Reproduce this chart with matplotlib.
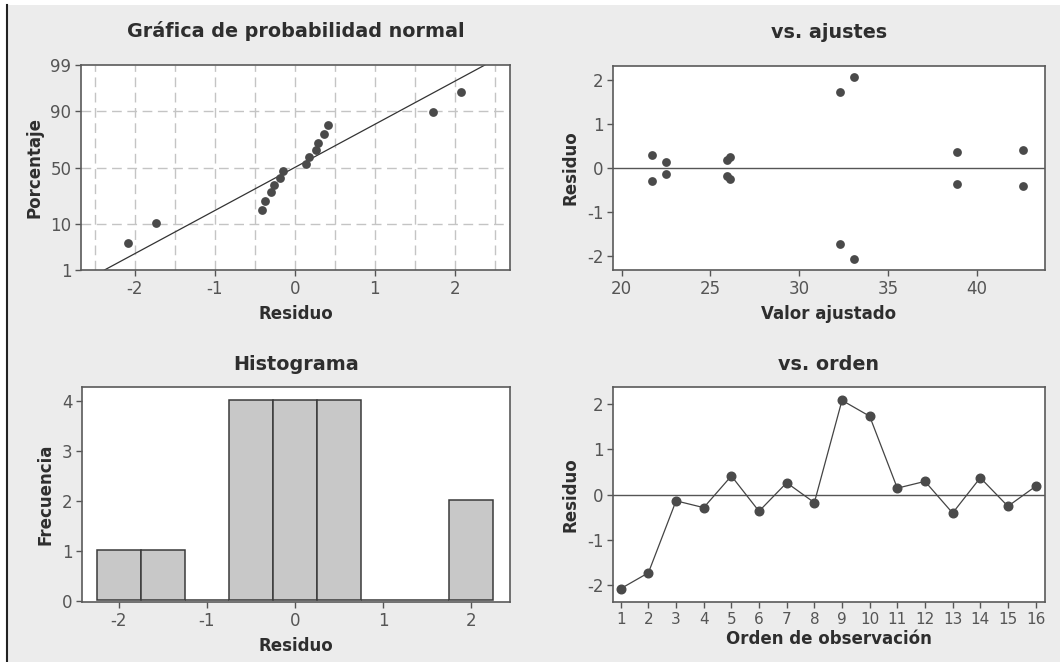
import numpy as np
import matplotlib.pyplot as plt
from matplotlib.lines import Line2D
from matplotlib.patches import Rectangle
from statistics import NormalDist

### DATA ###
orden = list(range(1, 17))
residuos = [-2.08, -1.73, -0.14, -0.29, 0.41, -0.37, 0.26, -0.18,
            2.08, 1.73, 0.14, 0.29, -0.41, 0.37, -0.26, 0.18]
ajustados = [33.1, 32.3, 22.5, 21.7, 42.6, 38.9, 26.1, 25.95,
             33.1, 32.3, 22.5, 21.7, 42.6, 38.9, 26.1, 25.95]
hist_centros = [-2.0, -1.5, -1.0, -0.5, 0.0, 0.5, 1.0, 1.5, 2.0]
hist_frecuencia = [1, 1, 0, 4, 4, 4, 0, 0, 2]
prob_ticks = [1, 10, 50, 90, 99]

### STYLE ###
bg = '#ececec'
txt = '#2e2e2e'
tickc = '#555555'
dotc = '#4a4a4a'
spinec = '#5a5a5a'
title_fs = 13.8
label_fs = 12
tick_fs = 12

plt.rcParams['font.family'] = 'DejaVu Sans'
plt.rcParams['axes.unicode_minus'] = False

nd = NormalDist()

def style_ax(ax):
    ax.set_facecolor('white')
    for s in ax.spines.values():
        s.set_color(spinec)
        s.set_linewidth(1.2)
    ax.tick_params(colors=tickc, labelcolor=tickc, labelsize=tick_fs,
                   length=4, width=1, direction='out', pad=3)
    ax.tick_params(top=False, right=False)


def px_axes(fig, l, t, r, b):
    W, H = 1060, 662
    return fig.add_axes([l / W, 1 - b / H, (r - l) / W, (b - t) / H])


def labels(ax, title, xlab, ylab, tpad):
    ax.set_title(title, fontsize=title_fs, fontweight='bold', color=txt, pad=tpad)
    ax.set_xlabel(xlab, fontsize=label_fs, fontweight='bold', color=txt, labelpad=5)
    ax.set_ylabel(ylab, fontsize=label_fs, fontweight='bold', color=txt, labelpad=5)


def main():
    fig = plt.figure(figsize=(10.6, 6.62), dpi=100, facecolor=bg)

    # white strip at top/left and the black edge line
    fig.patches.append(Rectangle((0, 1 - 5 / 662), 1, 5 / 662, transform=fig.transFigure,
                                 facecolor='white', edgecolor='none', zorder=0))
    fig.patches.append(Rectangle((0, 0), 5.5 / 1060, 1, transform=fig.transFigure,
                                 facecolor='white', edgecolor='none', zorder=0))
    fig.lines.append(Line2D([6.5 / 1060, 6.5 / 1060], [0, 1 - 5 / 662],
                            transform=fig.transFigure, color='#222222', lw=1.5))

    ### Normal probability plot ###
    ax1 = px_axes(fig, 81, 65, 510, 270)
    style_ax(ax1)
    n = len(residuos)
    srt = np.sort(residuos)
    pos = [(i + 1 - 0.3) / (n + 0.4) for i in range(n)]
    z = [nd.inv_cdf(p) for p in pos]
    sd = np.std(residuos, ddof=1)
    zline = np.array([nd.inv_cdf(0.01), nd.inv_cdf(0.99)])
    ax1.plot(sd * zline, zline, color='#333333', lw=0.9, zorder=2)
    ax1.scatter(srt, z, s=40, color=dotc, zorder=3, linewidths=0)
    zt = [nd.inv_cdf(p / 100) for p in prob_ticks]
    ax1.set_yticks(zt)
    ax1.set_yticklabels([str(p) for p in prob_ticks])
    ax1.set_ylim(zt[0], zt[-1])
    ax1.set_xlim(-2.67, 2.69)
    ax1.set_xticks([-2, -1, 0, 1, 2])
    for xv in np.arange(-2.5, 2.51, 0.5):
        ax1.axvline(xv, color='#c4c4c4', lw=1, ls=(0, (7, 4)), zorder=1)
    for yv in zt[1:-1]:
        ax1.axhline(yv, color='#c4c4c4', lw=1, ls=(0, (7, 4)), zorder=1)
    labels(ax1, 'Gráfica de probabilidad normal', 'Residuo', 'Porcentaje', 20)

    ### vs. ajustes ###
    ax2 = px_axes(fig, 613, 66, 1045, 270)
    style_ax(ax2)
    ax2.axhline(0, color='#555555', lw=1, zorder=1)
    ax2.scatter(ajustados, residuos, s=40, color=dotc, zorder=3, linewidths=0)
    ax2.set_xlim(19.51, 43.85)
    ax2.set_ylim(-2.32, 2.32)
    ax2.set_xticks([20, 25, 30, 35, 40])
    ax2.set_yticks([-2, -1, 0, 1, 2])
    labels(ax2, 'vs. ajustes', 'Valor ajustado', 'Residuo', 20)

    ### Histogram ###
    ax3 = px_axes(fig, 82, 387, 510, 602)
    style_ax(ax3)
    ax3.bar(hist_centros, hist_frecuencia, width=0.5, bottom=0.02,
            color='#c8c8c8', edgecolor='#3a3a3a', lw=1.1, zorder=2)
    ax3.set_xlim(-2.416, 2.44)
    ax3.set_ylim(-0.03, 4.27)
    ax3.set_xticks([-2, -1, 0, 1, 2])
    ax3.set_yticks([0, 1, 2, 3, 4])
    labels(ax3, 'Histograma', 'Residuo', 'Frecuencia', 12)

    ### vs. orden ###
    ax4 = px_axes(fig, 613, 387, 1045, 602)
    style_ax(ax4)
    ax4.axhline(0, color='#555555', lw=1, zorder=1)
    ax4.plot(orden, residuos, color='#444444', lw=0.9, marker='o', ms=6.2,
             mfc=dotc, mec=dotc, zorder=3)
    ax4.set_xlim(0.72, 16.34)
    ax4.set_ylim(-2.375, 2.375)
    ax4.set_xticks(orden)
    ax4.set_yticks([-2, -1, 0, 1, 2])
    ax4.tick_params(axis='x', labelsize=11)
    labels(ax4, 'vs. orden', 'Orden de observación', 'Residuo', 12)
    ax4.xaxis.labelpad = 2

    fig.savefig('out.png', dpi=100, facecolor=bg)


if __name__ == "__main__":
    main()
